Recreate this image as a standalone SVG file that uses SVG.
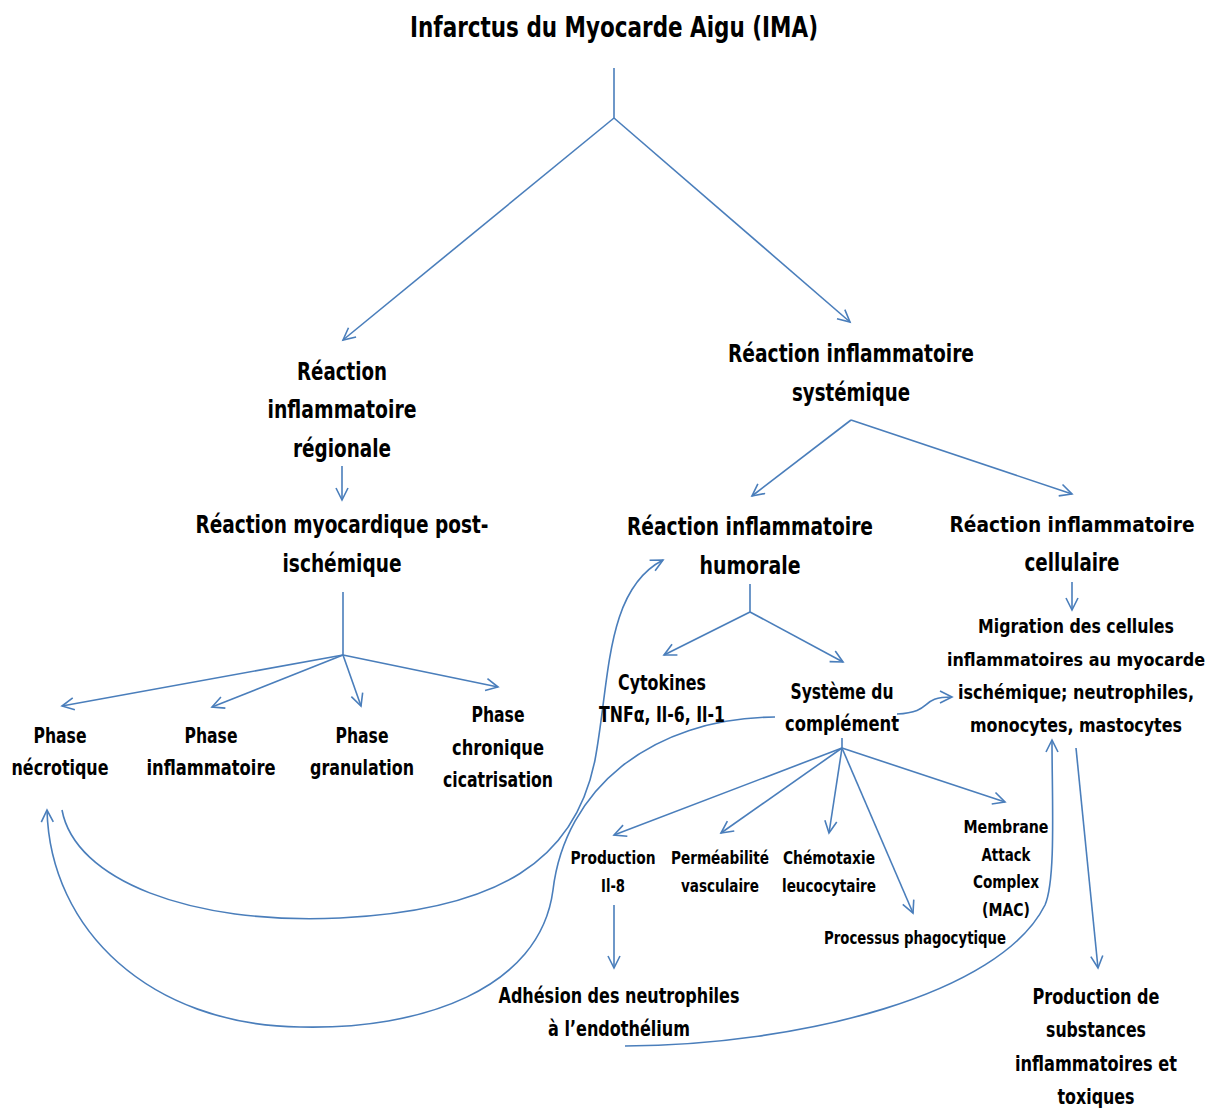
<svg xmlns="http://www.w3.org/2000/svg" width="1225" height="1108" viewBox="0 0 1225 1108">
<defs>
<style>
.t{font-family:"DejaVu Sans Condensed","DejaVu Sans","Liberation Sans",sans-serif;font-weight:bold;fill:#000;text-anchor:middle}
.h{font-size:28px}
.l{font-size:24px}
.m{font-size:21px}
.s{font-size:17px}
.c{fill:none;stroke:#4a7ebb;stroke-width:1.6}
.a{marker-end:url(#ah)}
</style>
<marker id="ah" markerUnits="userSpaceOnUse" markerWidth="16" markerHeight="16" refX="13" refY="7" orient="auto">
<path d="M1,1 L13,7 L1,13" fill="none" stroke="#4a7ebb" stroke-width="1.6"/>
</marker>
</defs>
<rect width="1225" height="1108" fill="#fff"/>
<g id="connectors">
<path class="c" d="M614,68 V118"/>
<path class="c a" d="M614,118 L343,340"/>
<path class="c a" d="M614,118 L850,322"/>
<path class="c a" d="M342,466 V500"/>
<path class="c" d="M343,592 V655"/>
<path class="c a" d="M343,655 L62,706"/>
<path class="c a" d="M343,655 L212,707"/>
<path class="c a" d="M343,655 L361,706"/>
<path class="c a" d="M343,655 L498,687"/>
<path class="c a" d="M851,420 L752,496"/>
<path class="c a" d="M851,420 L1072,494"/>
<path class="c" d="M750,584 V612"/>
<path class="c a" d="M750,612 L664,655"/>
<path class="c a" d="M750,612 L843,662"/>
<path class="c a" d="M1072,582 V610"/>
<path class="c" d="M842,738 V748"/>
<path class="c a" d="M842,748 L614,835"/>
<path class="c a" d="M842,748 L721,833"/>
<path class="c a" d="M842,748 L829,833"/>
<path class="c a" d="M842,748 L913,913"/>
<path class="c a" d="M842,748 L1005,802"/>
<path class="c a" d="M614,905 V968"/>
<path class="c a" d="M1076,748 L1098,968"/>
<path class="c a" d="M62,810 C75,880 190,925 340,918 C500,910 575,860 595,760 C610,680 605,590 663,560"/>
<path class="c a" d="M775,717 C650,718 565,790 553,890 C540,990 420,1030 300,1027 C150,1025 50,930 47,810"/>
<path class="c a" d="M625,1046 C800,1045 1000,995 1045,905 C1056,880 1052,800 1052,740"/>
<path class="c a" d="M897,714 C935,712 918,697 952,697"/>
</g>
<g id="n-ima"><text class="t h" x="614" y="37" textLength="408" lengthAdjust="spacingAndGlyphs">Infarctus du Myocarde Aigu (IMA)</text></g>
<g id="n-regionale" class="t l">
<text x="342" y="380" textLength="90" lengthAdjust="spacingAndGlyphs">Réaction</text>
<text x="342" y="418" textLength="149" lengthAdjust="spacingAndGlyphs">inflammatoire</text>
<text x="342" y="457" textLength="98" lengthAdjust="spacingAndGlyphs">régionale</text>
</g>
<g id="n-myocardique" class="t l">
<text x="342" y="533" textLength="293" lengthAdjust="spacingAndGlyphs">Réaction myocardique post-</text>
<text x="342" y="572" textLength="119" lengthAdjust="spacingAndGlyphs">ischémique</text>
</g>
<g id="n-systemique" class="t l">
<text x="851" y="362" textLength="246" lengthAdjust="spacingAndGlyphs">Réaction inflammatoire</text>
<text x="851" y="401" textLength="118" lengthAdjust="spacingAndGlyphs">systémique</text>
</g>
<g id="n-humorale" class="t l">
<text x="750" y="535" textLength="246" lengthAdjust="spacingAndGlyphs">Réaction inflammatoire</text>
<text x="750" y="574" textLength="101" lengthAdjust="spacingAndGlyphs">humorale</text>
</g>
<g id="n-cellulaire" class="t l">
<text x="1072" y="532" style="font-size:22px" textLength="245" lengthAdjust="spacingAndGlyphs">Réaction inflammatoire</text>
<text x="1072" y="571" textLength="95" lengthAdjust="spacingAndGlyphs">cellulaire</text>
</g>
<g id="n-necrotique" class="t m">
<text x="60" y="743" textLength="53" lengthAdjust="spacingAndGlyphs">Phase</text>
<text x="60" y="775" textLength="97" lengthAdjust="spacingAndGlyphs">nécrotique</text>
</g>
<g id="n-inflammatoire" class="t m">
<text x="211" y="743" textLength="53" lengthAdjust="spacingAndGlyphs">Phase</text>
<text x="211" y="775" textLength="129" lengthAdjust="spacingAndGlyphs">inflammatoire</text>
</g>
<g id="n-granulation" class="t m">
<text x="362" y="743" textLength="53" lengthAdjust="spacingAndGlyphs">Phase</text>
<text x="362" y="775" textLength="104" lengthAdjust="spacingAndGlyphs">granulation</text>
</g>
<g id="n-chronique" class="t m">
<text x="498" y="722" textLength="53" lengthAdjust="spacingAndGlyphs">Phase</text>
<text x="498" y="755" textLength="92" lengthAdjust="spacingAndGlyphs">chronique</text>
<text x="498" y="787" textLength="110" lengthAdjust="spacingAndGlyphs">cicatrisation</text>
</g>
<g id="n-cytokines" class="t m">
<text x="662" y="690" textLength="88" lengthAdjust="spacingAndGlyphs">Cytokines</text>
<text x="662" y="722" textLength="126" lengthAdjust="spacingAndGlyphs">TNFα, Il-6, Il-1</text>
</g>
<g id="n-complement" class="t m">
<text x="842" y="699" textLength="103" lengthAdjust="spacingAndGlyphs">Système du</text>
<text x="842" y="731" textLength="114" lengthAdjust="spacingAndGlyphs">complément</text>
</g>
<g id="n-migration" class="t m" style="font-size:19.5px">
<text x="1076" y="633" textLength="196" lengthAdjust="spacingAndGlyphs">Migration des cellules</text>
<text x="1076" y="666" style="font-size:18px" textLength="258" lengthAdjust="spacingAndGlyphs">inflammatoires au myocarde</text>
<text x="1076" y="699" textLength="236" lengthAdjust="spacingAndGlyphs">ischémique; neutrophiles,</text>
<text x="1076" y="732" textLength="212" lengthAdjust="spacingAndGlyphs">monocytes, mastocytes</text>
</g>
<g id="n-production-il8" class="t s">
<text x="613" y="864" textLength="85" lengthAdjust="spacingAndGlyphs">Production</text>
<text x="613" y="892" textLength="24" lengthAdjust="spacingAndGlyphs">Il-8</text>
</g>
<g id="n-permeabilite" class="t s">
<text x="720" y="864" textLength="98" lengthAdjust="spacingAndGlyphs">Perméabilité</text>
<text x="720" y="892" textLength="78" lengthAdjust="spacingAndGlyphs">vasculaire</text>
</g>
<g id="n-chemotaxie" class="t s">
<text x="829" y="864" textLength="92" lengthAdjust="spacingAndGlyphs">Chémotaxie</text>
<text x="829" y="892" textLength="94" lengthAdjust="spacingAndGlyphs">leucocytaire</text>
</g>
<g id="n-mac" class="t s">
<text x="1006" y="833" textLength="85" lengthAdjust="spacingAndGlyphs">Membrane</text>
<text x="1006" y="861" textLength="49" lengthAdjust="spacingAndGlyphs">Attack</text>
<text x="1006" y="888" textLength="66" lengthAdjust="spacingAndGlyphs">Complex</text>
<text x="1006" y="916" textLength="48" lengthAdjust="spacingAndGlyphs">(MAC)</text>
</g>
<g id="n-phagocytique" class="t s">
<text x="915" y="944" textLength="182" lengthAdjust="spacingAndGlyphs">Processus phagocytique</text>
</g>
<g id="n-adhesion" class="t m">
<text x="619" y="1003" textLength="241" lengthAdjust="spacingAndGlyphs">Adhésion des neutrophiles</text>
<text x="619" y="1036" textLength="142" lengthAdjust="spacingAndGlyphs">à l’endothélium</text>
</g>
<g id="n-substances" class="t m">
<text x="1096" y="1004" textLength="127" lengthAdjust="spacingAndGlyphs">Production de</text>
<text x="1096" y="1037" textLength="100" lengthAdjust="spacingAndGlyphs">substances</text>
<text x="1096" y="1071" textLength="162" lengthAdjust="spacingAndGlyphs">inflammatoires et</text>
<text x="1096" y="1104" textLength="77" lengthAdjust="spacingAndGlyphs">toxiques</text>
</g>
</svg>
